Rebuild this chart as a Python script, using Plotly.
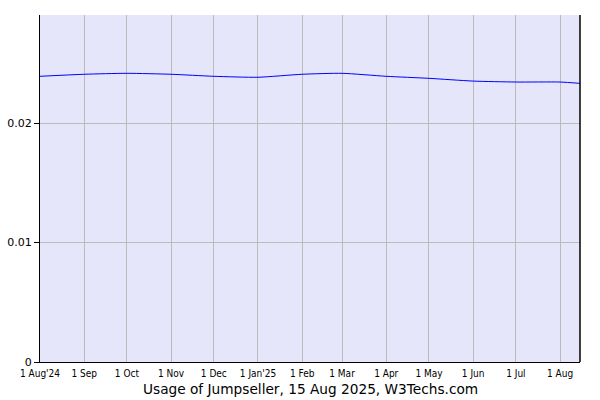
import plotly.graph_objects as go

dates = ["2024-08-01", "2024-09-01", "2024-10-01", "2024-11-01", "2024-12-01",
         "2025-01-01", "2025-02-01", "2025-03-01", "2025-04-01", "2025-05-01",
         "2025-06-01", "2025-07-01", "2025-08-01", "2025-08-15"]
usage = [0.02391, 0.02408, 0.02416, 0.02408, 0.02391, 0.02383, 0.02408,
         0.02416, 0.02391, 0.02374, 0.02351, 0.02343, 0.02343, 0.02332]

tick_vals = ["2024-08-01", "2024-09-01", "2024-10-01", "2024-11-01", "2024-12-01",
             "2025-01-01", "2025-02-01", "2025-03-01", "2025-04-01", "2025-05-01",
             "2025-06-01", "2025-07-01", "2025-08-01"]
tick_text = ["1 Aug'24", "1 Sep", "1 Oct", "1 Nov", "1 Dec", "1 Jan'25", "1 Feb",
             "1 Mar", "1 Apr", "1 May", "1 Jun", "1 Jul", "1 Aug"]

fig = go.Figure()
fig.add_trace(go.Scatter(x=dates, y=usage, mode="lines",
                         line=dict(color="#0000ff", width=1, shape="spline", smoothing=0.6),
                         hoverinfo="skip"))

fig.update_layout(
    width=600, height=400,
    margin=dict(l=40, r=20, t=15, b=38, autoexpand=False),
    paper_bgcolor="white",
    plot_bgcolor="#e6e6fa",
    showlegend=False,
    font=dict(family="DejaVu Sans", color="black", size=10),
    xaxis=dict(
        range=["2024-08-01", "2025-08-15"],
        tickmode="array", tickvals=tick_vals, ticktext=tick_text,
        showgrid=True, gridcolor="#bbbbbb", gridwidth=1,
        showline=True, linecolor="black", linewidth=1,
        mirror=False, ticks="", ticklen=0, ticklabelstandoff=2,
        tickfont=dict(size=10, family="DejaVu Sans Condensed"),
        zeroline=False, automargin=False,
    ),
    yaxis=dict(
        range=[0, 0.02904],
        tickmode="array", tickvals=[0, 0.01, 0.02], ticktext=["0", "0.01", "0.02"],
        showgrid=True, gridcolor="#bbbbbb", gridwidth=1,
        showline=True, linecolor="black", linewidth=1,
        ticks="outside", ticklen=5, tickcolor="black",
        tickfont=dict(size=11),
        zeroline=False, automargin=False,
    ),
    shapes=[dict(type="line", xref="paper", yref="paper", x0=1, x1=1, y0=0, y1=1,
                 line=dict(color="black", width=1.5))],
    annotations=[dict(text="Usage of Jumpseller, 15 Aug 2025, W3Techs.com",
                      xref="paper", yref="paper", x=0.5, y=0, yshift=-17,
                      xanchor="center", yanchor="top", showarrow=False,
                      font=dict(size=13.7, family="DejaVu Sans"))],
)

fig.write_html("out.html", config={"displayModeBar": False},
               post_script="document.body.style.margin='0';document.body.style.padding='0';")
